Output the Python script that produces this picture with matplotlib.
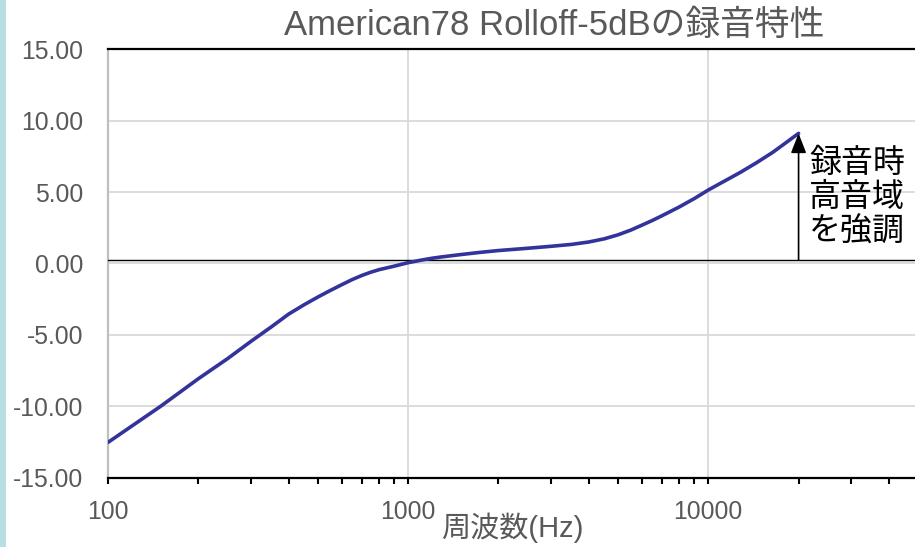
import matplotlib
matplotlib.use("Agg")
import matplotlib.pyplot as plt
from matplotlib.ticker import FixedLocator, NullFormatter, LogLocator

plt.rcParams['font.family'] = ['Liberation Sans', 'Noto Sans CJK JP']

# Recording characteristic (frequency in Hz, level in dB)
freq_hz = [100, 150, 200, 250, 300, 350, 400, 450, 500, 550, 600, 650, 700,
           750, 800, 900, 1000, 1100, 1200, 1300, 1500, 1750, 2000, 2500,
           3000, 3500, 4000, 4500, 5000, 5500, 6000, 6500, 7000, 7500, 8000,
           9000, 10000, 11000, 12800, 14500, 16400, 18000, 20000]
level_db = [-12.54, -10.0, -8.08, -6.68, -5.45, -4.45, -3.55, -2.9, -2.36,
            -1.9, -1.5, -1.14, -0.85, -0.62, -0.44, -0.19, 0.05, 0.22, 0.36,
            0.46, 0.62, 0.78, 0.9, 1.06, 1.2, 1.33, 1.5, 1.72, 2.0, 2.32,
            2.67, 3.0, 3.33, 3.65, 3.95, 4.55, 5.14, 5.62, 6.38, 7.06, 7.78,
            8.4, 9.11]

title_text = "American78 Rolloff-5dBの録音特性"
xlabel_text = "周波数(Hz)"
note_text = "録音時\n高音域\nを強調"
y_ticks = [-15, -10, -5, 0, 5, 10, 15]
x_major = [100, 1000, 10000]
ref_level = 0.25
arrow_freq = 20000

W, H = 915, 547
fig = plt.figure(figsize=(W / 100, H / 100), dpi=100)
fig.patch.set_facecolor("white")

# light blue strip along the left edge
fig.patches.append(plt.Rectangle((0, 0), 6 / W, 1, transform=fig.transFigure,
                                 facecolor="#b7dfe3", edgecolor="none"))

left, right, top, bottom = 108, 918, 49.3, 477.5
ax = fig.add_axes([left / W, 1 - bottom / H, (right - left) / W, (bottom - top) / H])

ax.set_xscale("log")
ax.set_xlim(100, 50000)
ax.set_ylim(-15, 15)

ax.plot(freq_hz, level_db, color="#33339c", lw=2.6, solid_capstyle="round",
        solid_joinstyle="round", zorder=4)

# reference line and arrow
ax.axhline(ref_level, color="black", lw=1.0, zorder=3)
ax.annotate("", xy=(arrow_freq, level_db[-1]), xytext=(arrow_freq, ref_level),
            arrowprops=dict(arrowstyle="-|>,head_length=1.2,head_width=0.47",
                            color="black", lw=1.2, shrinkA=0, shrinkB=0),
            zorder=5)
fig.text(809 / W, 1 - 198 / H, note_text, fontsize=23, color="black",
         va="center", ha="left", linespacing=1.18)

# grid
ax.set_yticks(y_ticks)
ax.set_yticklabels([f"{v:.2f}" for v in y_ticks])
ax.xaxis.set_major_locator(FixedLocator(x_major))
ax.set_xticklabels([str(v) for v in x_major])
ax.xaxis.set_minor_locator(LogLocator(base=10, subs=range(2, 10)))
ax.xaxis.set_minor_formatter(NullFormatter())
ax.grid(True, which="major", color="#d9d9d9", lw=1.3, zorder=0)
ax.set_axisbelow(True)

for s in ("top", "bottom"):
    ax.spines[s].set_color("black")
    ax.spines[s].set_linewidth(1.6)
ax.spines["left"].set_color("#bfbfbf")
ax.spines["left"].set_linewidth(1.6)
ax.spines["right"].set_visible(False)

ax.tick_params(axis="y", length=0, pad=18, labelsize=17.8, labelcolor="#595959")
ax.tick_params(axis="x", which="major", direction="out", length=4, width=1.5,
               color="black", labelsize=17.8, labelcolor="#595959", pad=12.5)
ax.tick_params(axis="x", which="minor", direction="out", length=4, width=1.5,
               color="black")

ax.set_xlabel(xlabel_text, fontsize=21, color="#595959")
ax.xaxis.label.set_va("center")
ax.xaxis.set_label_coords(0.499, (477.5 - 528) / (477.5 - 49.3))
fig.text(554 / W, 1 - 25 / H, title_text, fontsize=25, color="#595959",
         ha="center", va="center")

fig.savefig("out.png", dpi=100, facecolor="white")
